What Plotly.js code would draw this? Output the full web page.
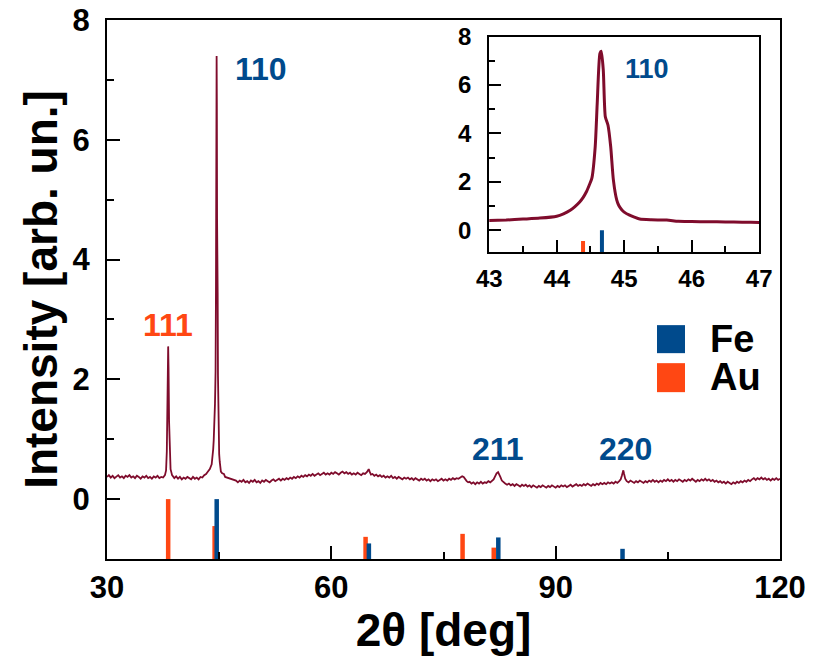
<!DOCTYPE html>
<html>
<head>
<meta charset="utf-8">
<script src="https://cdn.plot.ly/plotly-3.0.1.min.js"></script>
<style>
html,body{margin:0;padding:0;background:#fff;}
#chart{width:830px;height:666px;}
</style>
</head>
<body>
<div id="chart"></div>
<script>
const patternPoints = [
[30.00,0.37],[30.25,0.40],[30.50,0.36],[30.75,0.39],[31.00,0.35],[31.25,0.38],[31.50,0.40],[31.75,0.36],
[32.00,0.38],[32.25,0.35],[32.50,0.39],[32.75,0.37],[33.00,0.40],[33.25,0.36],[33.50,0.38],[33.75,0.35],
[34.00,0.39],[34.25,0.37],[34.50,0.34],[34.75,0.38],[35.00,0.36],[35.25,0.39],[35.50,0.35],[35.75,0.37],
[36.00,0.34],[36.25,0.38],[36.50,0.36],[36.75,0.39],[37.00,0.35],[37.25,0.37],[37.50,0.36],[37.75,0.40],
[37.90,0.48],[38.00,0.80],[38.07,1.50],[38.13,2.20],[38.18,2.55],[38.23,2.20],[38.30,1.30],[38.38,0.75],[38.50,0.50],[38.70,0.40],
[39.00,0.35],[39.25,0.38],[39.50,0.34],[39.75,0.37],[40.00,0.33],[40.25,0.36],[40.50,0.34],[40.75,0.37],
[41.00,0.35],[41.25,0.33],[41.50,0.37],[41.75,0.34],[42.00,0.36],[42.25,0.33],[42.50,0.37],[42.75,0.36],
[43.00,0.40],[43.25,0.42],[43.50,0.46],[43.75,0.50],[44.00,0.58],[44.10,0.68],[44.20,0.83],[44.27,0.98],
[44.34,1.17],[44.39,1.35],[44.44,1.59],[44.48,1.85],[44.52,2.14],[44.57,3.45],[44.60,5.24],[44.64,7.31],
[44.66,7.40],[44.69,6.62],[44.72,4.69],[44.76,4.34],[44.80,3.45],[44.84,2.07],[44.89,1.24],[44.92,1.02],
[44.96,0.86],[45.00,0.75],[45.08,0.62],[45.15,0.54],[45.23,0.46],[45.40,0.43],[45.63,0.42],[45.80,0.37],
[46.00,0.36],[46.25,0.35],[46.50,0.34],[46.75,0.33],[47.00,0.32],
[47.25,0.31],[47.50,0.28],[47.75,0.31],[48.00,0.29],[48.25,0.32],[48.50,0.28],[48.75,0.30],[49.00,0.27],
[49.25,0.31],[49.50,0.29],[49.75,0.32],[50.00,0.28],[50.25,0.30],[50.50,0.27],[50.75,0.31],[51.00,0.29],
[51.25,0.32],[51.50,0.30],[51.75,0.28],[52.00,0.31],[52.25,0.33],[52.50,0.30],[52.75,0.32],[53.00,0.34],
[53.25,0.31],[53.50,0.34],[53.75,0.32],[54.00,0.35],[54.25,0.33],[54.50,0.36],[54.75,0.34],[55.00,0.37],
[55.25,0.35],[55.50,0.38],[55.75,0.36],[56.00,0.39],[56.25,0.37],[56.50,0.40],[56.75,0.38],[57.00,0.41],
[57.25,0.39],[57.50,0.42],[57.75,0.39],[58.00,0.41],[58.25,0.43],[58.50,0.40],[58.75,0.42],[59.00,0.44],
[59.25,0.41],[59.50,0.43],[59.75,0.41],[60.00,0.44],[60.25,0.42],[60.50,0.45],[60.75,0.43],[61.00,0.41],
[61.25,0.44],[61.50,0.46],[61.75,0.43],[62.00,0.45],[62.25,0.42],[62.50,0.44],[62.75,0.41],[63.00,0.43],
[63.25,0.41],[63.50,0.44],[63.75,0.42],[64.00,0.40],[64.25,0.43],[64.50,0.42],
[64.75,0.45],[64.90,0.49],[65.00,0.50],[65.15,0.45],[65.30,0.41],
[65.50,0.42],[65.75,0.39],[66.00,0.41],[66.25,0.38],[66.50,0.40],[66.75,0.37],[67.00,0.39],[67.25,0.36],
[67.50,0.38],[67.75,0.36],[68.00,0.39],[68.25,0.35],[68.50,0.37],[68.75,0.34],[69.00,0.37],[69.25,0.35],
[69.50,0.33],[69.75,0.36],[70.00,0.34],[70.25,0.36],[70.50,0.33],[70.75,0.35],[71.00,0.32],[71.25,0.35],
[71.50,0.33],[71.75,0.31],[72.00,0.34],[72.25,0.32],[72.50,0.34],[72.75,0.31],[73.00,0.33],[73.25,0.30],
[73.50,0.33],[73.75,0.31],[74.00,0.33],[74.25,0.30],[74.50,0.32],[74.75,0.34],[75.00,0.31],[75.25,0.33],
[75.50,0.31],[75.75,0.34],[76.00,0.32],[76.25,0.35],[76.50,0.33],[76.75,0.35],[77.00,0.34],[77.25,0.36],
[77.50,0.38],[77.70,0.37],[77.90,0.33],[78.10,0.30],[78.30,0.28],
[78.50,0.29],[78.75,0.26],[79.00,0.28],[79.25,0.25],[79.50,0.28],[79.75,0.26],[80.00,0.29],[80.25,0.26],
[80.50,0.28],[80.75,0.27],[81.00,0.30],[81.25,0.28],[81.50,0.31],
[81.70,0.33],[81.90,0.38],[82.10,0.43],[82.30,0.45],[82.45,0.42],[82.60,0.37],[82.80,0.31],[83.00,0.28],
[83.25,0.26],[83.50,0.24],[83.75,0.26],[84.00,0.23],[84.25,0.25],[84.50,0.22],[84.75,0.25],[85.00,0.23],
[85.25,0.21],[85.50,0.24],[85.75,0.22],[86.00,0.24],[86.25,0.21],[86.50,0.23],[86.75,0.20],[87.00,0.23],
[87.25,0.21],[87.50,0.19],[87.75,0.22],[88.00,0.20],[88.25,0.23],[88.50,0.21],[88.75,0.19],[89.00,0.22],
[89.25,0.20],[89.50,0.23],[89.75,0.21],[90.00,0.19],[90.25,0.22],[90.50,0.20],[90.75,0.23],[91.00,0.21],
[91.25,0.23],[91.50,0.20],[91.75,0.22],[92.00,0.24],[92.25,0.21],[92.50,0.23],[92.75,0.25],[93.00,0.22],
[93.25,0.24],[93.50,0.22],[93.75,0.25],[94.00,0.23],[94.25,0.26],[94.50,0.24],[94.75,0.22],[95.00,0.25],
[95.25,0.23],[95.50,0.26],[95.75,0.24],[96.00,0.27],[96.25,0.25],[96.50,0.27],[96.75,0.25],[97.00,0.28],
[97.25,0.26],[97.50,0.28],[97.75,0.26],[98.00,0.29],[98.25,0.27],[98.50,0.30],
[98.70,0.33],[98.85,0.39],[98.95,0.46],[99.05,0.48],[99.15,0.42],[99.30,0.34],[99.50,0.30],
[99.75,0.28],[100.00,0.31],[100.25,0.29],[100.50,0.27],[100.75,0.30],[101.00,0.28],[101.25,0.31],[101.50,0.29],
[101.75,0.27],[102.00,0.30],[102.25,0.28],[102.50,0.31],[102.75,0.29],[103.00,0.32],[103.25,0.29],[103.50,0.31],
[103.75,0.28],[104.00,0.31],[104.25,0.29],[104.50,0.32],[104.75,0.30],[105.00,0.33],[105.25,0.30],[105.50,0.32],
[105.75,0.29],[106.00,0.32],[106.25,0.30],[106.50,0.33],[106.75,0.31],[107.00,0.29],[107.25,0.32],[107.50,0.30],
[107.75,0.33],[108.00,0.31],[108.25,0.34],[108.50,0.31],[108.75,0.29],[109.00,0.32],[109.25,0.30],[109.50,0.33],
[109.75,0.31],[110.00,0.34],[110.25,0.31],[110.50,0.33],[110.75,0.30],[111.00,0.32],[111.25,0.29],[111.50,0.31],
[111.75,0.28],[112.00,0.30],[112.25,0.27],[112.50,0.29],[112.75,0.26],[113.00,0.29],[113.25,0.27],[113.50,0.25],
[113.75,0.28],[114.00,0.26],[114.25,0.29],[114.50,0.27],[114.75,0.30],[115.00,0.28],[115.25,0.31],[115.50,0.29],
[115.75,0.32],[116.00,0.30],[116.25,0.33],[116.50,0.35],[116.75,0.32],[117.00,0.35],[117.25,0.33],[117.50,0.36],
[117.75,0.33],[118.00,0.35],[118.25,0.32],[118.50,0.34],[118.75,0.31],[119.00,0.34],[119.25,0.32],[119.50,0.35],
[119.75,0.32],[120.00,0.34]
];
const twoTheta = patternPoints.map(p => p[0]);
const intensity = patternPoints.map(p => p[1]);

// ---- reference patterns (stick positions and relative heights) ----
const fePos = [44.67, 65.02, 82.33, 98.94];
const feRel = [1.00, 0.26, 0.36, 0.17];
const auPos = [38.18, 44.39, 64.58, 77.55, 81.72];
const auRel = [1.00, 0.55, 0.37, 0.42, 0.19];
const stickBase = -1;

// ---- peak labels ----
const peakLabels = ['111', '110', '211', '220'];
const peakLabelX = [38.2, 50.6, 82.3, 99.3];
const peakLabelY = [2.9, 7.19, 0.83, 0.83];
const peakLabelPhase = ['Au', 'Fe', 'Fe', 'Fe'];
const insetLabel = '110';
const insetLabelX = 45.34;
const insetLabelY = 6.66;

// ---- tick labels ----
const mainXTicks = [30, 60, 90, 120];
const mainYTicks = [0, 2, 4, 6, 8];
const insetXTicks = [43, 44, 45, 46, 47];
const insetYTicks = [0, 2, 4, 6, 8];

const CURVE = '#7f0c2c';
const FE = '#004a8c';
const AU = '#ff4713';
const FONT = 'Liberation Sans, Arial, Helvetica, sans-serif';

function sticks(pos, rel) {
  const x = [], y = [];
  pos.forEach((p, i) => { x.push(p, p, null); y.push(stickBase, stickBase + rel[i], null); });
  return {x, y};
}
const feS = sticks(fePos, feRel);
const auS = sticks(auPos, auRel);

const traces = [
  {x: auS.x, y: auS.y, type: 'scatter', mode: 'lines', line: {color: AU, width: 4.5}, xaxis: 'x', yaxis: 'y', hoverinfo: 'skip'},
  {x: feS.x, y: feS.y, type: 'scatter', mode: 'lines', line: {color: FE, width: 4.5}, xaxis: 'x', yaxis: 'y', hoverinfo: 'skip'},
  {x: twoTheta, y: intensity, type: 'scatter', mode: 'lines', line: {color: CURVE, width: 1.8}, xaxis: 'x', yaxis: 'y'},
  {x: auS.x, y: auS.y, type: 'scatter', mode: 'lines', line: {color: AU, width: 4}, xaxis: 'x2', yaxis: 'y2', hoverinfo: 'skip'},
  {x: feS.x, y: feS.y, type: 'scatter', mode: 'lines', line: {color: FE, width: 4}, xaxis: 'x2', yaxis: 'y2', hoverinfo: 'skip'},
  {x: twoTheta, y: intensity, type: 'scatter', mode: 'lines', line: {color: CURVE, width: 3, shape: 'spline', smoothing: 0.6}, xaxis: 'x2', yaxis: 'y2'}
];

const tickF = {family: FONT, size: 31, color: '#000', weight: 'bold'};
const insetF = {family: FONT, size: 24, color: '#000', weight: 'bold'};

const annotations = peakLabels.map((t, i) => ({
  text: t, x: peakLabelX[i], y: peakLabelY[i], xref: 'x', yref: 'y', showarrow: false,
  xanchor: 'center', yanchor: 'middle',
  font: {family: FONT, size: 32, weight: 'bold', color: peakLabelPhase[i] === 'Fe' ? FE : AU}
}));
annotations.push({text: insetLabel, x: insetLabelX, y: insetLabelY, xref: 'x2', yref: 'y2', showarrow: false,
  xanchor: 'center', yanchor: 'middle', font: {family: FONT, size: 27, weight: 'bold', color: FE}});
// legend text
annotations.push({text: 'Fe', x: 110.4, y: 2.67, xref: 'x', yref: 'y', showarrow: false, xanchor: 'left', yanchor: 'middle',
  font: {family: FONT, size: 38, weight: 'bold', color: '#000'}});
annotations.push({text: 'Au', x: 110.4, y: 2.04, xref: 'x', yref: 'y', showarrow: false, xanchor: 'left', yanchor: 'middle',
  font: {family: FONT, size: 38, weight: 'bold', color: '#000'}});

const shapes = [
  {type: 'rect', xref: 'x', yref: 'y', x0: 103.55, x1: 107.3, y0: 2.437, y1: 2.905, fillcolor: FE, line: {width: 0}},
  {type: 'rect', xref: 'x', yref: 'y', x0: 103.55, x1: 107.3, y0: 1.786, y1: 2.27, fillcolor: AU, line: {width: 0}}
];

const layout = {
  width: 830, height: 666,
  margin: {l: 107, r: 50, t: 20, b: 107},
  paper_bgcolor: '#fff', plot_bgcolor: '#fff',
  showlegend: false,
  font: {family: FONT, color: '#000'},
  xaxis: {
    domain: [0, 1], range: [30, 120], tickvals: mainXTicks, ticktext: mainXTicks.map(String),
    ticks: 'inside', ticklen: 13, tickwidth: 2, tickcolor: '#000',
    minor: {ticks: 'inside', ticklen: 7, tickwidth: 2, tickcolor: '#000', dtick: 15, tick0: 30},
    showline: true, linewidth: 2, linecolor: '#000', mirror: true, showgrid: false, zeroline: false,
    tickfont: tickF, ticklabelstandoff: 0,
    title: {text: '2θ [deg]', font: {family: FONT, size: 46, weight: 'bold', color: '#000'}, standoff: 10}
  },
  yaxis: {
    domain: [0, 1], range: [-1, 8], tickvals: mainYTicks, ticktext: mainYTicks.map(String),
    ticks: 'inside', ticklen: 13, tickwidth: 2, tickcolor: '#000',
    minor: {ticks: 'inside', ticklen: 7, tickwidth: 2, tickcolor: '#000', dtick: 1, tick0: 0},
    showline: true, linewidth: 2, linecolor: '#000', mirror: true, showgrid: false, zeroline: false,
    tickfont: tickF, ticklabelstandoff: 9,
    title: {text: 'Intensity [arb. un.]', font: {family: FONT, size: 46, weight: 'bold', color: '#000'}, standoff: 0}
  },
  xaxis2: {
    domain: [0.568, 0.969], anchor: 'y2', range: [43, 47], tickvals: insetXTicks, ticktext: insetXTicks.map(String),
    ticks: 'inside', ticklen: 12, tickwidth: 2, tickcolor: '#000',
    minor: {ticks: 'inside', ticklen: 6, tickwidth: 2, tickcolor: '#000', dtick: 0.5, tick0: 43},
    showline: true, linewidth: 2, linecolor: '#000', mirror: true, showgrid: false, zeroline: false,
    tickfont: insetF, ticklabelstandoff: 4
  },
  yaxis2: {
    domain: [0.5696, 0.969], anchor: 'x2', range: [-0.9, 8], tickvals: insetYTicks, ticktext: insetYTicks.map(String),
    ticks: 'inside', ticklen: 12, tickwidth: 2, tickcolor: '#000',
    minor: {ticks: 'inside', ticklen: 6, tickwidth: 2, tickcolor: '#000', dtick: 1, tick0: 0},
    showline: true, linewidth: 2, linecolor: '#000', mirror: true, showgrid: false, zeroline: false,
    tickfont: insetF, ticklabelstandoff: 11
  },
  annotations: annotations,
  shapes: shapes
};

Plotly.newPlot('chart', traces, layout, {displayModeBar: false, staticPlot: true});
</script>
</body>
</html>
